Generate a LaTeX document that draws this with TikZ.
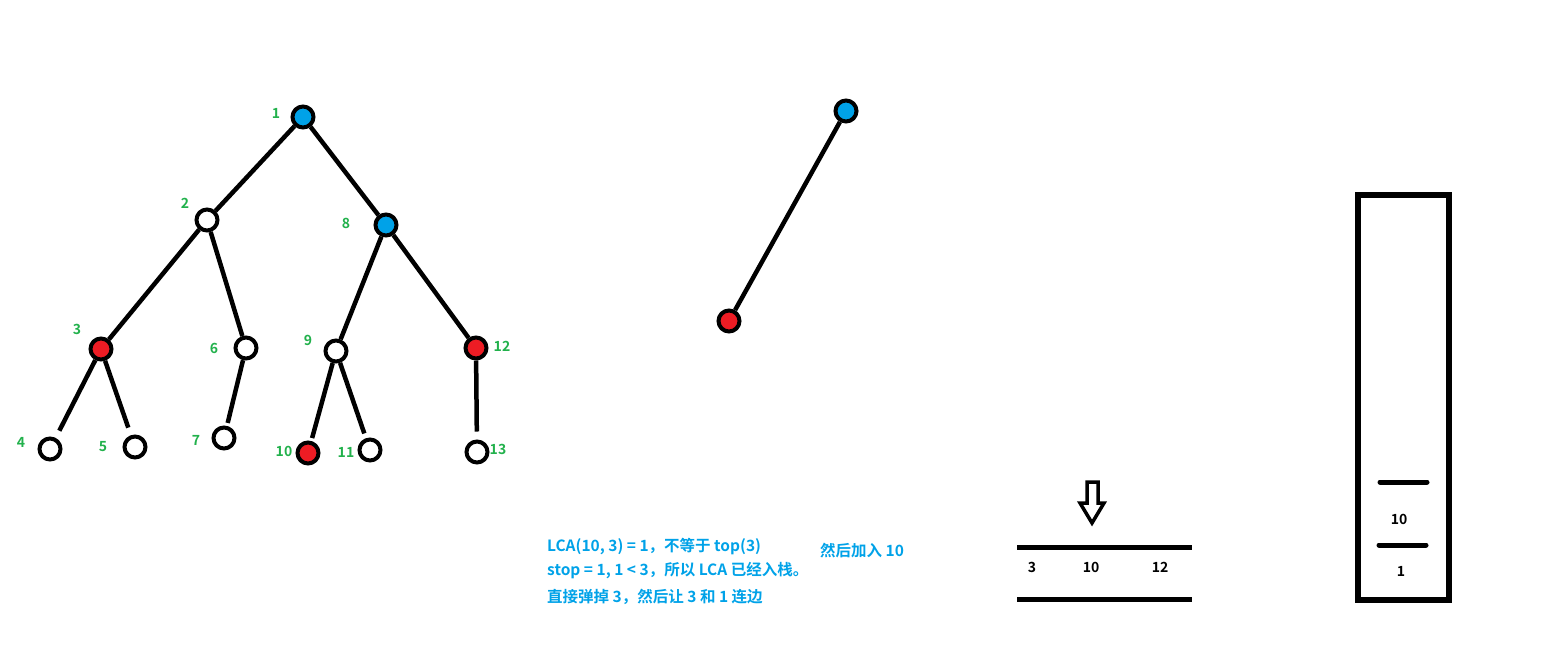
\documentclass[tikz,border=0pt]{standalone}
\usepackage{fontspec}
\setmainfont{Noto Sans CJK SC}[BoldFont={Noto Sans CJK SC Bold}]
\definecolor{lblgreen}{RGB}{34,177,76}
\definecolor{txtblue}{RGB}{0,162,232}
\definecolor{nodeblue}{RGB}{0,162,232}
\definecolor{nodered}{RGB}{237,28,36}
\begin{document}
\begin{tikzpicture}[x=1pt,y=-1pt,
  vtx/.style={circle,draw=black,line width=4pt,minimum size=21pt,inner sep=0pt,fill=white},
  bluev/.style={vtx,fill=nodeblue},
  redv/.style={vtx,fill=nodered},
  edge/.style={line width=4.5pt},
  lbl/.style={text=lblgreen,font=\fontsize{14}{16}\selectfont\bfseries,inner sep=0pt},
  note/.style={text=txtblue,font=\fontsize{15.5}{18}\selectfont\bfseries,inner sep=0pt,anchor=west},
  stk/.style={text=black,font=\fontsize{14}{16}\selectfont\bfseries,inner sep=0pt},
  bar/.style={line width=5pt},
]
\useasboundingbox (0,0) rectangle (1541,648);
% tree edges first
\coordinate (p1) at (303,117);
\coordinate (p2) at (207,220);
\coordinate (p8) at (386,225);
\coordinate (p3) at (101,349);
\coordinate (p6) at (246,348);
\coordinate (p9) at (336,351);
\coordinate (p12) at (476,348);
\coordinate (p4) at (50,449);
\coordinate (p5) at (135,447);
\coordinate (p7) at (224,438);
\coordinate (p10) at (308,453);
\coordinate (p11) at (370,450);
\coordinate (p13) at (477,452);
\node[bluev] (n1) at (p1) {};
\node[vtx] (n2) at (p2) {};
\node[bluev] (n8) at (p8) {};
\node[redv] (n3) at (p3) {};
\node[vtx] (n6) at (p6) {};
\node[vtx] (n9) at (p9) {};
\node[redv] (n12) at (p12) {};
\node[vtx] (n4) at (p4) {};
\node[vtx] (n5) at (p5) {};
\node[vtx] (n7) at (p7) {};
\node[redv] (n10) at (p10) {};
\node[vtx] (n11) at (p11) {};
\node[vtx] (n13) at (p13) {};
\draw[edge] (n1) -- (n2);
\draw[edge] (n1) -- (n8);
\draw[edge] (n2) -- (n3);
\draw[edge] (n2) -- (n6);
\draw[edge] (n8) -- (n9);
\draw[edge] (n8) -- (n12);
\draw[edge,shorten >=8pt] (n3) -- (n4);
\draw[edge,shorten >=8pt] (n3) -- (n5);
\draw[edge,shorten >=3pt] (n6) -- (n7);
\draw[edge,shorten >=3pt] (n9) -- (n10);
\draw[edge,shorten >=5pt] (n9) -- (n11);
\draw[edge,shorten >=8pt] (n12) -- (n13);
\node[lbl] (l1) at (276,113) {1};
\node[lbl] (l2) at (185,203) {2};
\node[lbl] (l8) at (346,223) {8};
\node[lbl] (l3) at (77,329) {3};
\node[lbl] (l6) at (214,348) {6};
\node[lbl] (l9) at (308,340) {9};
\node[lbl] (l12) at (502,346) {12};
\node[lbl] (l4) at (21,442) {4};
\node[lbl] (l5) at (103,447) {5};
\node[lbl] (l7) at (196,440) {7};
\node[lbl] (l10) at (284,451) {10};
\node[lbl] (l11) at (346,452) {11};
\node[lbl] (l13) at (498,449) {13};
% middle tree
\node[bluev] (m1) at (846,111) {};
\node[redv] (m3) at (729,321) {};
\draw[edge] (m1) -- (m3);
% notes
\node[note] (t1) at (547,547) {LCA(10, 3) = 1，不等于 top(3)};
\node[note] (t2) at (547,571) {stop = 1, 1 < 3，所以 LCA 已经入栈。};
\node[note] (t3) at (547,597) {直接弹掉 3，然后让 3 和 1 连边};
\node[note] (t4) at (820,551) {然后加入 10};
% stack row
\coordinate (r1a) at (1017,547);
\coordinate (r1b) at (1192,547);
\coordinate (r2a) at (1017,599);
\coordinate (r2b) at (1192,599);
\draw[bar] (r1a) -- (r1b);
\draw[bar] (r2a) -- (r2b);
\node[stk] (s3) at (1032,567) {3};
\node[stk] (s10) at (1091,567) {10};
\node[stk] (s12) at (1160,567) {12};
\draw[line width=3.5pt,line join=miter] (1087,482) -- (1098,482) -- (1098,503) -- (1104,503) -- (1092,523) -- (1080,503) -- (1087,503) -- cycle;
% right stack
\draw[line width=5.5pt] (1358,195) rectangle (1449,600);
\coordinate (b1a) at (1380,482);
\coordinate (b1b) at (1427,482);
\coordinate (b2a) at (1379,545);
\coordinate (b2b) at (1426,545);
\draw[bar,line cap=round] (b1a) -- (b1b);
\draw[bar,line cap=round] (b2a) -- (b2b);
\node[stk] (q10) at (1399,519) {10};
\node[stk] (q1) at (1401,571) {1};
\end{tikzpicture}
\end{document}
